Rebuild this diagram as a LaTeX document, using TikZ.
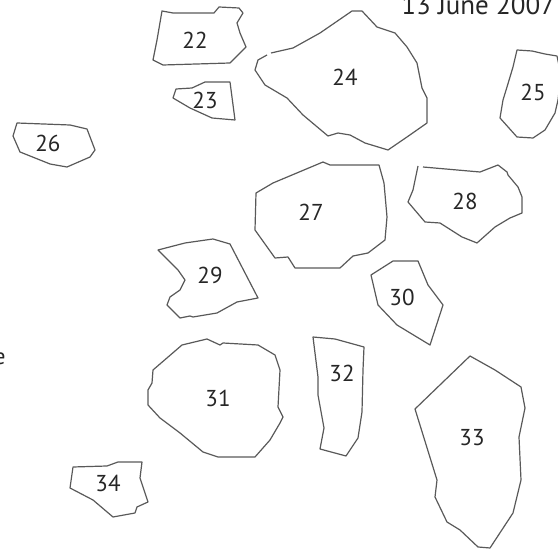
\documentclass[tikz,border=0pt]{standalone}
\usepackage{fontspec}
\setmainfont{PT Sans}
\begin{document}
\begin{tikzpicture}[x=0.5pt,y=-0.5pt,
  zone/.style={draw=black!65, line width=0.6pt, line join=round},
  lab/.style={font=\fontsize{11.5}{12}\selectfont, text=black!85, inner sep=0pt}]
\useasboundingbox (0,0) rectangle (558,550);
% 22
\draw[zone] (162,11) -- (173,13) -- (214,13) -- (219,7) -- (239,8) -- (243,13) -- (237,23) -- (240,33) -- (246,47) -- (230,63) -- (163,65) -- (153,60) -- (157,40) -- cycle;
\node[lab] (n22) at (195,40) {22};
% 23
\draw[zone] (176,89) -- (192,88) -- (205,82) -- (230,82) -- (235,120) -- (212,118) -- (190,108) -- (173,98) -- cycle;
\node[lab] (n23) at (205,100) {23};
% 24
\draw[zone] (271,53) -- (293,48) -- (320,33) -- (352,11) -- (362,11) -- (377,27) -- (395,33) -- (407,47) -- (417,63) -- (422,88) -- (427,98) -- (427,123) -- (407,137) -- (388,150) -- (365,143) -- (350,135) -- (338,133) -- (328,136) -- (303,115) -- (287,98) -- (265,85) -- (255,70) -- (258,60) -- (267,55);
\node[lab] (n24) at (345,77) {24};
% 25
\draw[zone] (517,50) -- (532,51) -- (545,54) -- (557,56) -- (561,75) -- (558,100) -- (555,113) -- (545,130) -- (533,138) -- (517,137) -- (500,118) -- (503,100) -- (507,87) -- (513,67) -- cycle;
\node[lab] (n25) at (533,92) {25};
% 26
\draw[zone] (17,123) -- (70,125) -- (87,129) -- (95,150) -- (90,157) -- (67,167) -- (50,164) -- (20,152) -- (13,136) -- cycle;
\node[lab] (n26) at (48,143) {26};
% 27
\draw[zone] (323,162) -- (330,165) -- (379,165) -- (384,183) -- (387,217) -- (385,240) -- (368,253) -- (353,256) -- (340,268) -- (295,268) -- (288,257) -- (275,258) -- (255,230) -- (256,193) -- (273,183) -- cycle;
\node[lab] (n27) at (311,212) {27};
% 28
\draw[zone] (423,167) -- (480,172) -- (498,165) -- (507,172) -- (508,175) -- (518,187) -- (522,197) -- (522,213) -- (510,218) -- (495,227) -- (477,243) -- (462,237) -- (440,223) -- (425,222) -- (408,202) -- (413,190) -- (418,166);
\node[lab] (n28) at (465,201) {28};
% 29
\draw[zone] (158,250) -- (185,243) -- (213,239) -- (230,244) -- (258,298) -- (237,302) -- (217,313) -- (193,317) -- (190,316) -- (180,318) -- (167,305) -- (170,297) -- (180,290) -- (185,280) -- (178,270) -- cycle;
\node[lab] (n29) at (210,275) {29};
% 30
\draw[zone] (393,261) -- (418,261) -- (428,285) -- (443,305) -- (430,345) -- (397,325) -- (378,305) -- (371,275) -- cycle;
\node[lab] (n30) at (402,297) {30};
% 31
\draw[zone] (207,339) -- (220,345) -- (223,343) -- (258,345) -- (275,355) -- (280,370) -- (278,407) -- (283,417) -- (280,423) -- (270,440) -- (255,457) -- (218,457) -- (203,452) -- (180,433) -- (160,418) -- (148,405) -- (148,390) -- (152,383) -- (153,370) -- (182,345) -- cycle;
\node[lab] (n31) at (218,398) {31};
% 32
\draw[zone] (313,337) -- (335,339) -- (364,347) -- (363,370) -- (362,412) -- (358,438) -- (346,456) -- (320,449) -- (324,428) -- (318,395) -- (318,377) -- cycle;
\node[lab] (n32) at (342,373) {32};
% 33
\draw[zone] (470,356) -- (495,370) -- (521,387) -- (525,408) -- (519,437) -- (521,480) -- (513,513) -- (490,548) -- (478,547) -- (460,530) -- (447,522) -- (435,497) -- (437,480) -- (415,409) -- cycle;
\node[lab] (n33) at (472,438) {33};
% 34
\draw[zone] (73,467) -- (107,466) -- (118,462) -- (142,462) -- (140,478) -- (148,502) -- (137,507) -- (135,513) -- (113,517) -- (93,500) -- (70,488) -- cycle;
\node[lab] (n34) at (108,483) {34};
% texts
\node[lab, font=\fontsize{13.5}{14}\selectfont, anchor=base west] (date) at (401,15) {13 June 2007};
\node[lab, anchor=base east] (cut) at (6,365) {e};
\end{tikzpicture}
\end{document}
